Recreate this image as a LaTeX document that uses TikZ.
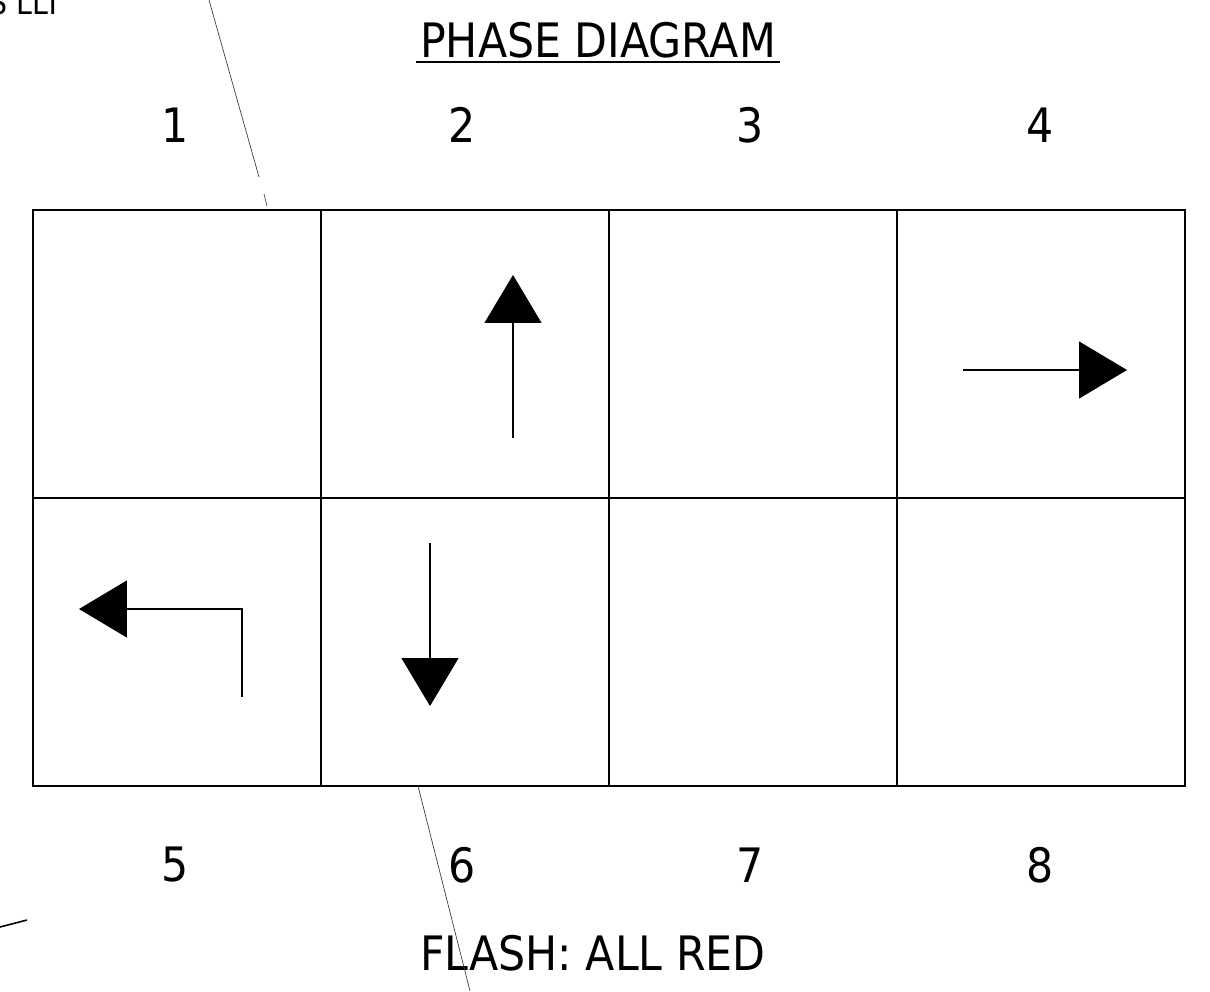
\documentclass[tikz,border=0pt]{standalone}
\usepackage{fontspec}
\setmainfont[FakeStretch=0.9]{DejaVu Sans}
\usetikzlibrary{arrows.meta,positioning}
\tikzset{
  cell/.style={draw, line width=1.1pt, minimum width=5.76cm, minimum height=5.76cm,
    inner sep=0pt, outer sep=0pt},
  phasenum/.style={font=\fontsize{27}{30}\selectfont, inner sep=0pt},
  movearrow/.style={-{Triangle[length=9.6mm,width=11.4mm]}, line width=0.8pt},
  leader/.style={draw=black!75, line width=0.4pt}
}

\begin{document}
\begin{tikzpicture}[x=0.02cm, y=-0.02cm]
  \useasboundingbox (0,0) rectangle (1210,991);

  % title and notes
  \node[phasenum, inner sep=2pt] (title) at (598,40) {PHASE DIAGRAM};
  \draw[line width=0.8pt] (title.south west) -- (title.south east);
  \node[phasenum] (flash) at (593,953) {FLASH: ALL RED};
  \node[font=\fontsize{18}{20}\selectfont, inner sep=0pt, anchor=base east] (corner) at (62,14) {S LLT};

  % phase cells
  \node[cell] (c1) at (177,354) {};
  \node[cell, right=0pt of c1] (c2) {};
  \node[cell, right=0pt of c2] (c3) {};
  \node[cell, right=0pt of c3] (c4) {};
  \node[cell, below=0pt of c1] (c5) {};
  \node[cell, right=0pt of c5] (c6) {};
  \node[cell, right=0pt of c6] (c7) {};
  \node[cell, right=0pt of c7] (c8) {};

  \foreach \n/\x in {1/175,2/462,3/750,4/1040}
    \node[phasenum] (n\n) at (\x,125) {\n};
  \foreach \n/\x in {5/175,6/462,7/750,8/1040}
    \node[phasenum] (n\n) at (\x,865) {\n};

  % movements
  \coordinate (a2s) at (513,438);  \coordinate (a2e) at (513,275);
  \coordinate (a4s) at (963,370);  \coordinate (a4e) at (1127,370);
  \coordinate (a5s) at (242,697);  \coordinate (a5e) at (79,609);
  \coordinate (a6s) at (430,543);  \coordinate (a6e) at (430,706);
  \draw[movearrow] (a2s) -- (a2e);
  \draw[movearrow] (a4s) -- (a4e);
  \draw[movearrow] (a5s) |- (a5e);
  \draw[movearrow] (a6s) -- (a6e);

  % leader lines
  \coordinate (l1a) at (209,0);   \coordinate (l1b) at (259,177);
  \coordinate (l2a) at (264,194); \coordinate (l2b) at (267,206);
  \coordinate (l3a) at (418,786); \coordinate (l3b) at (470,991);
  \coordinate (l4a) at (0,927);   \coordinate (l4b) at (27,920);
  \draw[leader] (l1a) -- (l1b);
  \draw[leader] (l2a) -- (l2b);
  \draw[leader] (l3a) -- (l3b);
  \draw[line width=0.9pt] (l4a) -- (l4b);
\end{tikzpicture}
\end{document}
